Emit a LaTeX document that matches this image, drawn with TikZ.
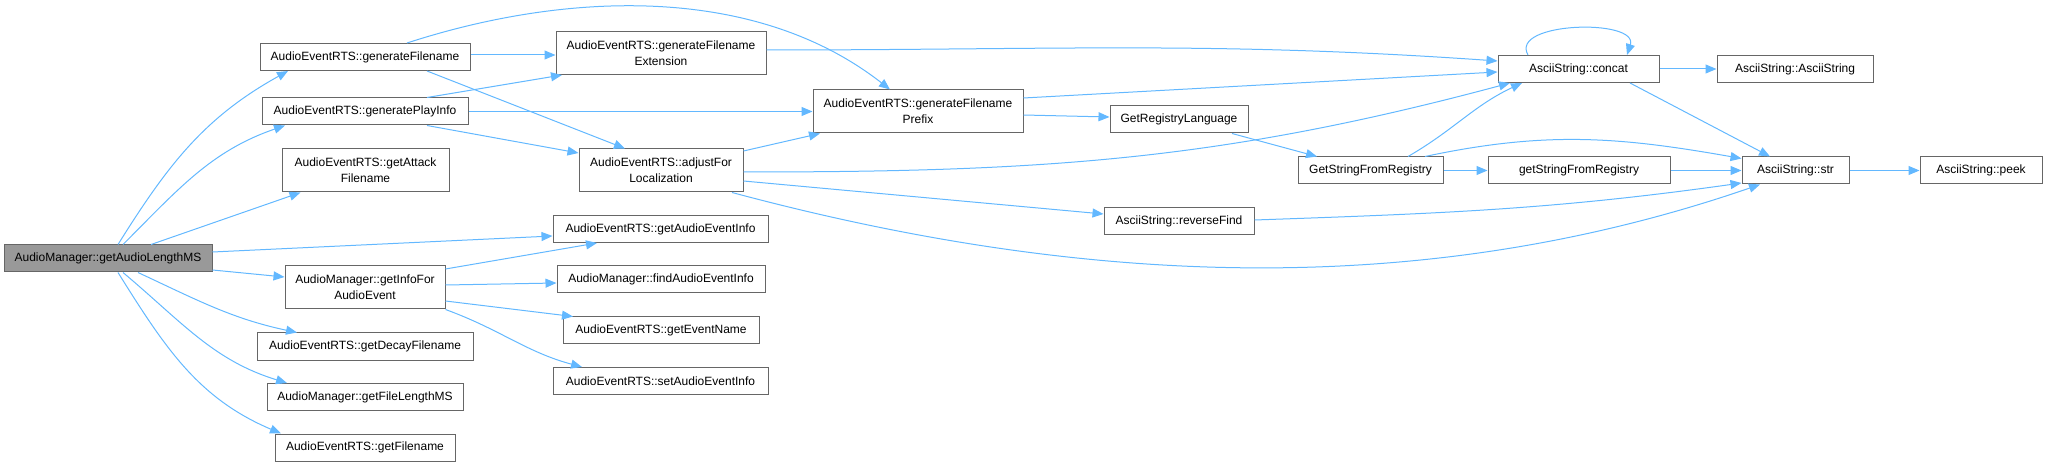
\documentclass[tikz,border=0pt]{standalone}
\usepackage{fontspec}
\setmainfont{Liberation Sans}
\usepackage{xcolor}
\usetikzlibrary{arrows.meta}

\definecolor{edgeblue}{HTML}{63B8FF}
\definecolor{boxline}{HTML}{666666}
\definecolor{rootfill}{HTML}{999999}

\begin{document}
\begin{tikzpicture}[x=1pt, y=1pt,
  fn/.style={draw=boxline, line width=1pt, fill=white, align=center, inner sep=0pt,
             minimum height=27pt, font=\fontsize{12}{16}\selectfont},
  fntwo/.style={fn, minimum height=43pt},
  rootfn/.style={fn, fill=rootfill},
  arr/.style={-{Triangle[length=11pt,width=9pt]}, color=edgeblue, line width=1pt}]
  \useasboundingbox (0,0) rectangle (2047,466);

  \node[rootfn, minimum width=208pt] (getLen) at (108,207.5) {AudioManager::getAudioLengthMS};
  % first level
  \node[fn, minimum width=210pt] (genFile) at (365,409) {AudioEventRTS::generateFilename};
  \node[fn, minimum width=206pt] (genPlay) at (365,354.5) {AudioEventRTS::generatePlayInfo};
  \node[fntwo, minimum width=167pt] (attack) at (365.5,295.5) {AudioEventRTS::getAttack\\Filename};
  \node[fntwo, minimum width=160pt] (infoFor) at (365,178.5) {AudioManager::getInfoFor\\AudioEvent};
  \node[fn, minimum width=216pt] (decay) at (365,119.5) {AudioEventRTS::getDecayFilename};
  \node[fn, minimum width=196pt] (fileLen) at (365,69) {AudioManager::getFileLengthMS};
  \node[fn, minimum width=180pt] (getFile) at (365,18.5) {AudioEventRTS::getFilename};
  % second level
  \node[fntwo, minimum width=210pt] (genExt) at (661,413) {AudioEventRTS::generateFilename\\Extension};
  \node[fntwo, minimum width=164pt] (adjust) at (661,295.5) {AudioEventRTS::adjustFor\\Localization};
  \node[fn, minimum width=215pt] (getInfo) at (660.5,237) {AudioEventRTS::getAudioEventInfo};
  \node[fn, minimum width=208pt] (findInfo) at (661,186.5) {AudioManager::findAudioEventInfo};
  \node[fn, minimum width=196pt] (evName) at (661,135.5) {AudioEventRTS::getEventName};
  \node[fn, minimum width=215pt] (setInfo) at (660.5,85) {AudioEventRTS::setAudioEventInfo};
  \node[fntwo, minimum width=210pt] (genPre) at (918,354.5) {AudioEventRTS::generateFilename\\Prefix};
  % strings and registry
  \node[fn, minimum width=138pt] (regLang) at (1179,346.5) {GetRegistryLanguage};
  \node[fn, minimum width=150pt] (revFind) at (1179,245) {AsciiString::reverseFind};
  \node[fn, minimum width=145pt] (strReg) at (1370.5,295.5) {GetStringFromRegistry};
  \node[fn, minimum width=161pt] (concat) at (1578.5,397) {AsciiString::concat};
  \node[fn, minimum width=182pt] (strRegLow) at (1579,295.5) {getStringFromRegistry};
  \node[fn, minimum width=156pt] (ctor) at (1795,397) {AsciiString::AsciiString};
  \node[fn, minimum width=107pt] (str) at (1795.5,295.5) {AsciiString::str};
  \node[fn, minimum width=122pt] (peek) at (1981,295.5) {AsciiString::peek};

  % calls from the root
  \draw[arr] ([xshift=10pt]getLen.north) to[out=58,in=209] ([xshift=-77pt]genFile.south);
  \draw[arr] ([xshift=15pt]getLen.north) to[out=45,in=199] ([xshift=-80pt]genPlay.south);
  \draw[arr] ([xshift=43pt]getLen.north) -- ([xshift=-65pt]attack.south);
  \draw[arr] ([yshift=6.5pt]getLen.east) -- ([yshift=-7pt]getInfo.west);
  \draw[arr] ([yshift=-11.5pt]getLen.east) -- ([yshift=10.5pt]infoFor.west);
  \draw[arr] ([xshift=30pt]getLen.south) to[out=-25,in=168] ([xshift=-68pt]decay.north);
  \draw[arr] ([xshift=15pt]getLen.south) to[out=-40,in=163] ([xshift=-78pt]fileLen.north);
  \draw[arr] ([xshift=10pt]getLen.south) to[out=-58,in=157] ([xshift=-84pt]getFile.north);

  \draw[arr] ([yshift=2pt]genFile.east) -- ([yshift=-2pt]genExt.west);
  \draw[arr] ([xshift=42pt]genFile.north) .. controls +(18:170) and +(142:170) .. ([xshift=-28pt]genPre.north);
  \draw[arr] ([xshift=62pt]genFile.south) -- ([xshift=-36pt]adjust.north);
  \draw[arr] ([xshift=62pt]genPlay.north) -- ([xshift=-99pt]genExt.south);
  \draw[arr] (genPlay) -- (genPre);
  \draw[arr] ([xshift=62pt]genPlay.south) -- ([yshift=17.5pt]adjust.west);

  \draw[arr] ([yshift=18.5pt]infoFor.east) -- ([xshift=-63.5pt]getInfo.south);
  \draw[arr] ([yshift=2.5pt]infoFor.east) -- ([yshift=-3.5pt]findInfo.west);
  \draw[arr] ([yshift=-13.5pt]infoFor.east) -- ([xshift=-88pt]evName.north);
  \draw[arr] (infoFor.south east) to[out=-20,in=165] ([xshift=-78.5pt]setInfo.north);

  % filename helpers
  \draw[arr] ([yshift=3pt]genExt.east) .. controls +(0:287) and +(176:287) .. ([yshift=8pt]concat.west);
  \draw[arr] ([yshift=13.5pt]genPre.east) -- ([yshift=-3pt]concat.west);
  \draw[arr] ([yshift=-3.5pt]genPre.east) -- ([yshift=2.5pt]regLang.west);
  \draw[arr] ([yshift=19.5pt]adjust.east) -- ([xshift=-98pt]genPre.south);
  \draw[arr] ([yshift=-1.5pt]adjust.east) .. controls +(0:300) and +(195:300) .. ([xshift=-68.5pt]concat.south);
  \draw[arr] ([yshift=-10.5pt]adjust.east) -- ([yshift=7pt]revFind.west);
  \draw[arr] ([xshift=71pt]adjust.south) .. controls +(-15:360) and +(199:360) .. ([xshift=-35.5pt]str.south);

  % registry and string calls
  \draw[arr] ([xshift=53pt]regLang.south) -- ([xshift=-53.5pt]strReg.north);
  \draw[arr] ([xshift=37.5pt]strReg.north) to[out=30,in=205] ([xshift=-56.5pt]concat.south);
  \draw[arr] (strReg) -- (strRegLow);
  \draw[arr] ([xshift=54.5pt]strReg.north) .. controls +(12:124) and +(170:124) .. ([yshift=12pt]str.west);
  \draw[arr] (strRegLow) -- (str);
  \draw[arr] ([yshift=1pt]revFind.east) .. controls +(2:190) and +(188:190) .. ([yshift=-12.5pt]str.west);
  \draw[arr] ([xshift=-50.5pt]concat.north) to[out=120,in=72] ([xshift=48.5pt]concat.north);
  \draw[arr] (concat) -- (ctor);
  \draw[arr] ([xshift=51.5pt]concat.south) -- ([xshift=-25.5pt]str.north);
  \draw[arr] (str) -- (peek);
\end{tikzpicture}
\end{document}
